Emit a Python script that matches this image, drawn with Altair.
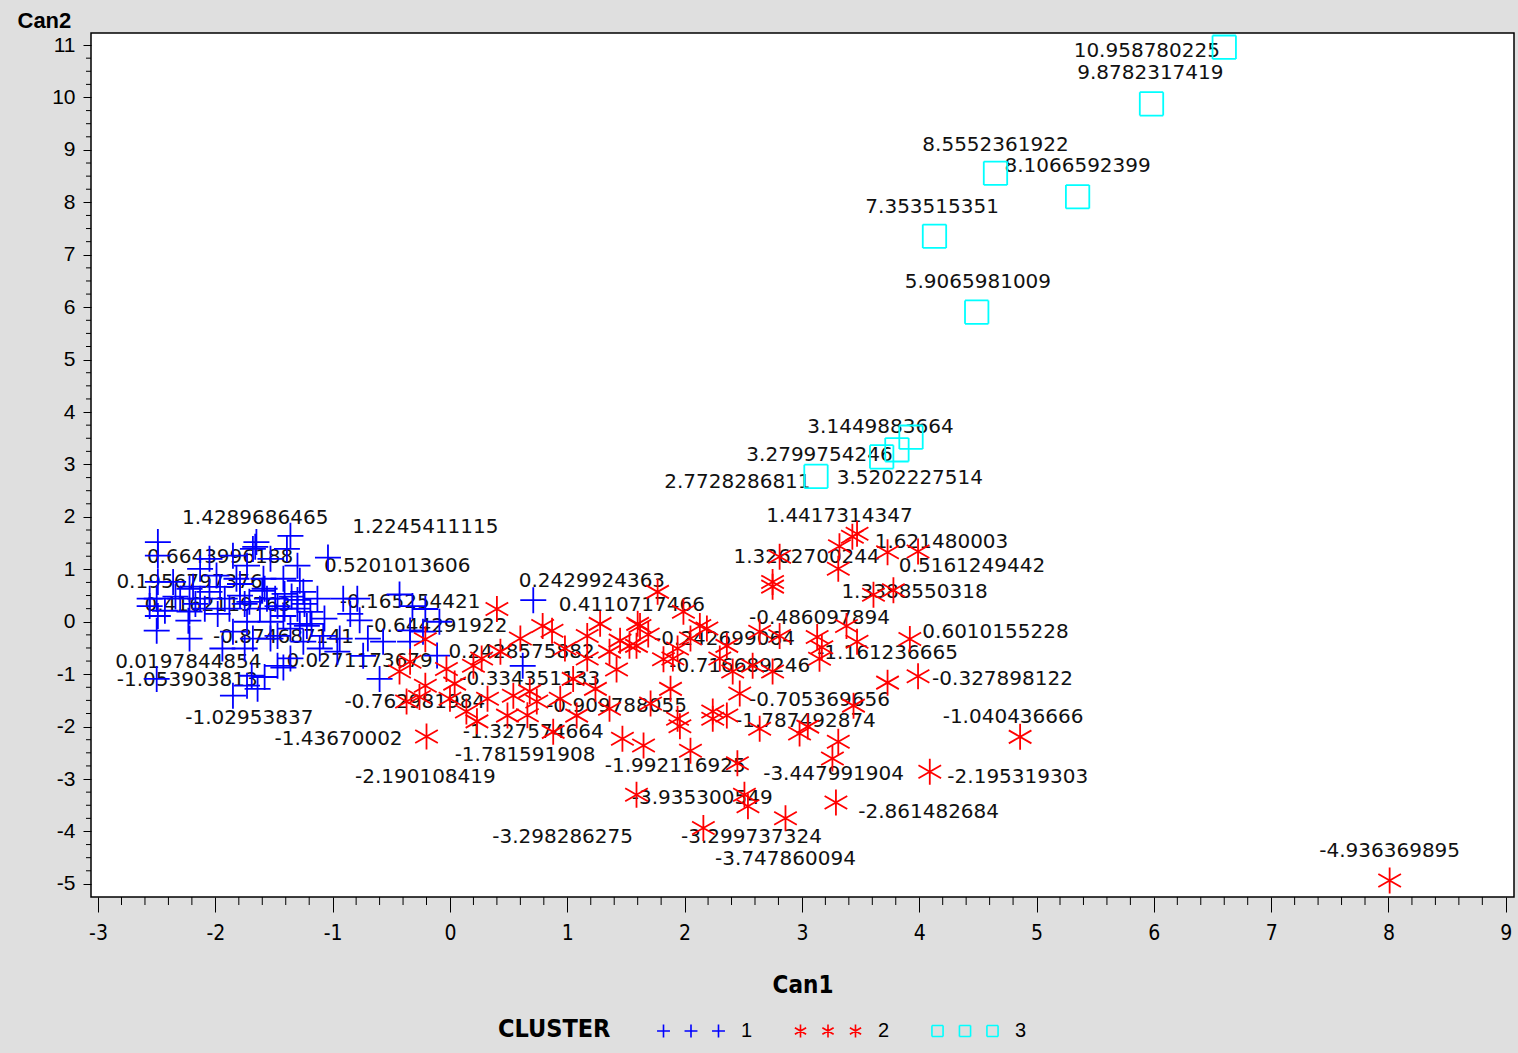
import altair as alt
import pandas as pd

# ---------------------------------------------------------------
# Labelled observations: the label is the observation's Can2 score
# ---------------------------------------------------------------
label_text = [
    "1.4289686465", "1.2245411115", "0.6643996188", "0.5201013606", "0.1956797376",
    "0.4162119763", "-0.165254421", "-0.644291922", "-0.874687141", "0.0197844854",
    "0.0271173679", "-1.053903813", "-1.02953837", "-0.762981984", "-1.43670002",
    "-2.190108419", "-0.334351133", "0.2428575882", "0.2429924363", "0.4110717466",
    "-0.242699064", "-0.716689246", "-0.486097894", "1.4417314347", "1.621480003",
    "1.3262700244", "0.5161249442", "1.3388550318", "0.6010155228", "-1.161236665",
    "-0.327898122", "-0.705369656", "-1.787492874", "-1.040436666", "-0.909788055",
    "-1.327574664", "-1.781591908", "-1.992116925", "-3.447991904", "-2.195319303",
    "-3.935300549", "-2.861482684", "-3.298286275", "-3.299737324", "-3.747860094",
    "-4.936369895", "10.958780225", "9.8782317419", "8.5552361922", "8.1066592399",
    "7.353515351", "5.9065981009", "3.1449883664", "3.2799754246", "2.7728286811",
    "3.5202227514",
]
label_cluster = (
    ["1"] * 13 + ["2"] * 4 + ["1", "2", "1"] + ["2"] * 26 + ["3"] * 10
)
# Can1 of each labelled observation
label_can1 = [
    -1.66, -1.04, -1.96, -0.43, -2.22, -1.30, -0.34, -0.11, -1.42, -2.23,
    -0.77, -1.58, -1.69, -0.34, -0.26, -0.20, -0.21, -0.21, 0.40, 0.71,
    1.69, 1.82, 3.17, 3.32, 3.43, 3.73, 3.61, 3.99, 3.78, 3.73,
    3.92, 3.15, 2.36, 3.99, 1.42, 0.68, 0.66, 1.96, 3.29, 4.86,
    2.16, 4.09, 1.59, 2.51, 2.86, 8.01, 6.60, 5.98, 4.65, 5.35,
    4.13, 4.49, 3.68, 3.81, 3.12, 3.93,
]
# where each label's text is centred (Can1, Can2 units)
label_x = [
    -1.66, -0.21, -1.96, -0.45, -2.22, -1.98, -0.34, -0.11, -1.42, -2.23,
    -0.77, -2.24, -1.71, -0.30, -0.95, -0.21, 0.68, 0.61, 1.21, 1.55,
    2.34, 2.47, 3.15, 3.32, 4.19, 3.04, 4.45, 3.96, 4.65, 3.73,
    4.71, 3.15, 3.03, 4.80, 1.42, 0.71, 0.64, 1.92, 3.27, 4.84,
    2.15, 4.08, 0.96, 2.57, 2.86, 8.01, 5.94, 5.97, 4.65, 5.35,
    4.11, 4.50, 3.67, 3.15, 2.45, 3.92,
]
label_y = [
    1.98, 1.81, 1.24, 1.07, 0.76, 0.32, 0.38, -0.08, -0.29, -0.76,
    -0.74, -1.12, -1.83, -1.54, -2.23, -2.97, -1.09, -0.57, 0.78, 0.32,
    -0.32, -0.84, 0.08, 2.02, 1.52, 1.24, 1.07, 0.57, -0.19, -0.59,
    -1.10, -1.50, -1.89, -1.81, -1.60, -2.10, -2.55, -2.76, -2.91, -2.97,
    -3.37, -3.62, -4.10, -4.10, -4.53, -4.38, 10.88, 10.46, 9.10, 8.69,
    7.92, 6.48, 3.71, 3.18, 2.67, 2.74,
]

# ---------------------------------------------------------------
# Unlabelled observations
# ---------------------------------------------------------------
c1_can1 = [
    -2.49, -2.49, -2.49, -2.50, -2.56, -2.49, -2.50, -2.19, -2.13, -2.05,
    -1.98, -1.85, -1.82, -1.73, -1.68, -1.65, -1.79, -1.59, -1.56, -1.47,
    -1.42, -1.36, -1.39, -1.53, -1.73, -1.85, -1.68, -1.25, -1.30, -1.19,
    -1.13, -1.22, -1.08, -0.94, -1.25, -1.36, -1.47, -1.73, -1.85, -2.50,
    -1.94, -0.91, -0.79, -0.70, -0.57, -0.60, -0.74, -0.96, -0.32, -0.23,
    -0.09, -0.34, -1.42, -1.30, -1.53, -1.99, -2.22, -2.36, -1.88, -1.62,
    -1.47, -2.22, 0.62, -1.64, -2.30, -1.58, -1.28, -1.75, -1.41, -1.07,
    -0.85, -2.13, -2.56, -2.43, -2.34, -2.09, -1.92, -1.79, -1.71, -1.60,
    -1.49, -1.41, -1.35, -1.28, -1.24, -1.18, -1.53, -1.36, -1.75, -1.11,
    -2.05, -2.17,
]
c1_can2 = [
    1.52, 1.26, 0.76, 0.44, 0.30, 0.11, -0.17, 0.67, 0.44, 0.57,
    0.15, 1.26, 0.82, 1.07, 1.39, 1.52, 0.50, 0.82, 0.44, 0.30,
    0.11, 1.64, 1.39, 0.00, 0.00, -0.19, -0.32, 0.57, 0.25, 0.19,
    0.44, -0.08, -0.27, -0.32, -0.38, -0.70, -0.84, -1.22, -1.41, -1.09,
    -0.51, 0.44, 0.44, -0.32, -0.38, -1.09, -0.65, -0.57, 0.30, -0.19,
    0.00, -0.38, 0.82, 1.07, 1.20, 0.88, 0.63, 0.76, 0.25, 0.25,
    -0.27, -0.32, -0.84, -1.28, 0.44, 0.63, -0.04, 0.34, 0.53, 0.06,
    0.15, 1.01, 0.44, 0.21, 0.48, 0.25, 0.44, 0.72, 0.38, 0.59,
    0.44, 0.25, 0.48, 0.78, 0.34, -0.04, -0.32, -0.13, -0.51, -0.51,
    1.20, 0.34,
]
c2_can1 = [
    0.87, 1.17, 1.77, 1.99, 1.60, 1.45, 2.13, -0.43, -0.21, -0.03,
    0.20, 0.27, 0.43, 0.00, -0.37, 0.14, 0.23, 0.32, 0.54, 0.49,
    0.74, 0.88, 1.05, 1.08, 1.36, 1.17, 1.36, 1.59, 1.90, 1.88,
    1.47, 1.65, 2.05, 2.24, 1.62, 1.53, 1.94, 2.19, 2.36, 2.41,
    2.58, 2.75, 2.64, 2.81, 2.75, 2.75, 2.81, 3.13, 3.38, 3.47,
    3.31, 3.47, 3.44, 2.24, 1.94, 2.45, 2.64, 2.98, 3.05, 3.31,
    3.26, 2.54, 0.79, 0.60, 0.98, 1.28, 2.05, 2.30, 1.71, 2.47,
    1.24, 0.94, 0.04,
]
c2_can2 = [
    -0.17, -0.27, 0.57, 0.19, -0.04, -0.36, -0.08, -0.95, -1.22, -0.90,
    -0.84, -0.70, -0.57, -1.47, -1.52, -1.71, -1.90, -1.47, -1.41, -1.79,
    -1.52, -2.10, -1.09, -1.79, -1.66, -0.70, -0.57, -0.46, -0.70, -1.28,
    -2.23, -2.36, -2.46, -1.85, -0.08, -0.46, -0.51, -0.13, -0.46, -0.95,
    -0.84, -0.95, -0.19, -0.27, 0.67, 0.76, 1.24, -0.29, -0.08, -0.38,
    1.01, 1.68, -1.60, -1.71, -1.85, -2.70, -2.04, -2.13, -2.00, -2.29,
    -2.61, -3.52, -0.08, -0.32, -0.51, -0.04, -0.32, -0.70, -1.56, -1.37,
    -1.28, -1.47, -1.18,
]

clusters = ["1", "2", "3"]
cluster_colors = ["#0000ff", "#ff0000", "#00ffff"]

# ---------------------------------------------------------------
# Tables
# ---------------------------------------------------------------
rows = []
for cx, cy in zip(c1_can1, c1_can2):
    rows.append({"Can1": cx, "Can2": cy, "CLUSTER": "1"})
for cx, cy in zip(c2_can1, c2_can2):
    rows.append({"Can1": cx, "Can2": cy, "CLUSTER": "2"})
for t, c, cx in zip(label_text, label_cluster, label_can1):
    rows.append({"Can1": cx, "Can2": float(t), "CLUSTER": c})
obs = pd.DataFrame(rows)
obs["order"] = obs["CLUSTER"].astype(int)
obs = obs.sort_values("order", kind="stable")

labels = pd.DataFrame({"lx": label_x, "ly": label_y, "text": label_text})

# ---------------------------------------------------------------
# Symbols (unit paths, scaled by the mark size)
# ---------------------------------------------------------------
PLUS = [((-1, 0), (1, 0)), ((0, -1), (0, 1))]
STAR = [((0, -1), (0, 1)), ((-0.87, -0.5), (0.87, 0.5)), ((-0.87, 0.5), (0.87, -0.5))]
SQUARE = [((-0.9, -0.9), (0.9, -0.9)), ((0.9, -0.9), (0.9, 0.9)),
          ((0.9, 0.9), (-0.9, 0.9)), ((-0.9, 0.9), (-0.9, -0.9))]


def to_path(segments, scale=1.0, shifts=(0.0,)):
    parts = []
    for dx in shifts:
        for (x0, y0), (x1, y1) in segments:
            parts.append(
                f"M{x0 * scale + dx:.3f},{y0 * scale:.3f}L{x1 * scale + dx:.3f},{y1 * scale:.3f}"
            )
    return "".join(parts)


single_shapes = [to_path(PLUS), to_path(STAR), to_path(SQUARE)]
legend_shapes = [
    to_path(PLUS, 0.47, (-2, 0, 2)),
    to_path(STAR, 0.47, (-2, 0, 2)),
    to_path(SQUARE, 0.45, (-2, 0, 2)),
]

# ---------------------------------------------------------------
# Scales and axes
# ---------------------------------------------------------------
NARROW = "Liberation Sans Narrow, DejaVu Sans Condensed, Liberation Sans, sans-serif"
SANS = "Liberation Sans, Arial, sans-serif"

xscale = alt.Scale(domain=[-3.06, 9.07], nice=False, zero=False)
yscale = alt.Scale(domain=[-5.25, 11.23], nice=False, zero=False)

xaxis = alt.Axis(
    values=list(range(-3, 10)), labelExpr="datum.value", tickSize=15,
    tickColor="black", tickWidth=1, labelFont=NARROW, labelFontSize=21,
    labelColor="black", labelPadding=10, labelFlush=False, labelOverlap=False,
    domain=False, grid=False, title="Can1", titleFont=NARROW, titleFontSize=24,
    titleFontWeight="bold", titleColor="black", titleY=88,
    titleBaseline="middle",
)
yaxis = alt.Axis(
    values=list(range(-5, 12)), labelExpr="datum.value", tickSize=8,
    tickColor="black", tickWidth=1, labelFont=SANS, labelFontSize=21,
    labelColor="black", labelPadding=8, labelFlush=False, labelOverlap=False,
    domain=False, grid=False, title="Can2", titleAngle=0, titleAlign="left",
    titleBaseline="middle", titleX=-74, titleY=-13, titleFont=SANS,
    titleFontSize=22, titleFontWeight="bold", titleColor="black",
)

x_minor = [round(-3 + 0.2 * i, 2) for i in range(61) if i % 5 != 0]
y_minor = [round(-5 + 0.25 * i, 2) for i in range(65) if i % 4 != 0]

PLOT_W, PLOT_H = 1423, 864

# ---------------------------------------------------------------
# Layers
# ---------------------------------------------------------------
minor_x = alt.Chart(pd.DataFrame({"v": x_minor})).mark_rule(
    color="black", strokeWidth=1
).encode(
    x=alt.X("v:Q", scale=xscale, axis=xaxis),
    y=alt.value(PLOT_H),
    y2=alt.value(PLOT_H + 8),
)
minor_y = alt.Chart(pd.DataFrame({"v": y_minor})).mark_rule(
    color="black", strokeWidth=1
).encode(
    y=alt.Y("v:Q", scale=yscale, axis=yaxis),
    x=alt.value(-5),
    x2=alt.value(0),
)

text_layer = alt.Chart(labels).mark_text(
    font="DejaVu Sans", fontSize=20, color="#111111", align="center",
    baseline="middle",
).encode(
    x=alt.X("lx:Q", scale=xscale, axis=xaxis),
    y=alt.Y("ly:Q", scale=yscale, axis=yaxis),
    text="text:N",
)

point_layer = alt.Chart(obs).mark_point(
    filled=False, strokeWidth=1.8, size=676, opacity=1
).encode(
    x=alt.X("Can1:Q", scale=xscale, axis=xaxis),
    y=alt.Y("Can2:Q", scale=yscale, axis=yaxis),
    color=alt.Color("CLUSTER:N", scale=alt.Scale(domain=clusters, range=cluster_colors), legend=None),
    shape=alt.Shape("CLUSTER:N", scale=alt.Scale(domain=clusters, range=single_shapes), legend=None),
    order=alt.Order("order:Q"),
)

cluster_legend = alt.Legend(
    title="CLUSTER", orient="none", legendX=407, legendY=983,
    direction="horizontal", titleOrient="left", titleFont=NARROW,
    titleFontSize=25, titleFontWeight="bold", titleColor="black",
    titleBaseline="middle", titleAnchor="middle", titlePadding=65,
    labelFont=SANS, labelFontSize=20, labelColor="black", labelOffset=35,
    columnPadding=38, symbolSize=756, symbolStrokeWidth=1.6, padding=0,
    symbolOpacity=1,
)

legend_layer = alt.Chart(
    pd.DataFrame({"Can1": [0.0, 0.0, 0.0], "Can2": [0.0, 0.0, 0.0], "CLUSTER": clusters})
).transform_filter("false").mark_point(filled=False, strokeWidth=1.6, opacity=1).encode(
    x=alt.X("Can1:Q", scale=xscale, axis=xaxis),
    y=alt.Y("Can2:Q", scale=yscale, axis=yaxis),
    stroke=alt.Stroke("CLUSTER:N", scale=alt.Scale(domain=clusters, range=cluster_colors), legend=cluster_legend),
    shape=alt.Shape("CLUSTER:N", scale=alt.Scale(domain=clusters, range=legend_shapes), legend=cluster_legend),
)

chart = (
    alt.layer(minor_x, minor_y, text_layer, point_layer, legend_layer)
    .resolve_scale(shape="independent", stroke="independent")
    .properties(
        width=PLOT_W,
        height=PLOT_H,
        autosize=alt.AutoSizeParams(type="none"),
        padding={"left": 91, "top": 33, "right": 4, "bottom": 156},
        background="#dfdfdf",
    )
    .configure_view(fill="white", stroke="black", strokeWidth=1.5)
)

chart.save("out.html", embed_options={"renderer": "svg", "actions": False})
